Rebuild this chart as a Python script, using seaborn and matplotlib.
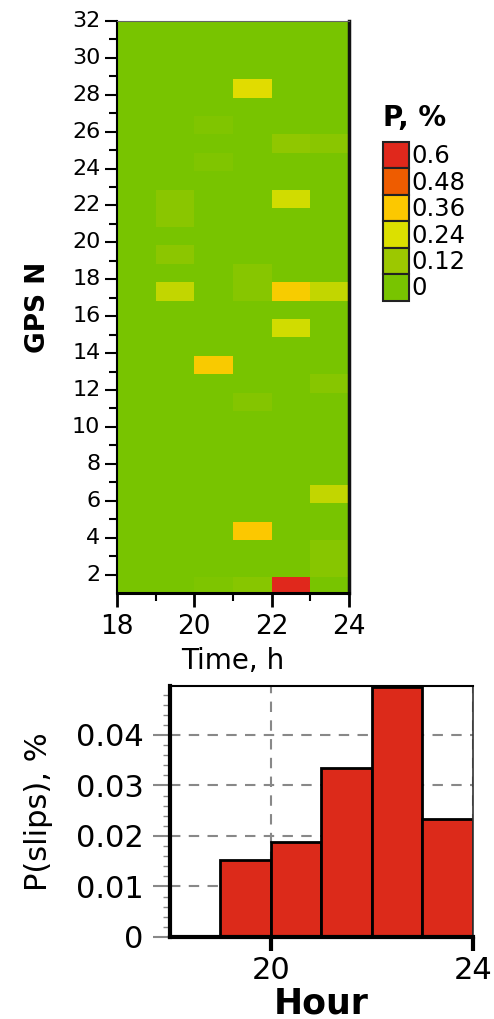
import numpy as np
import pandas as pd
import seaborn as sns
import matplotlib
import matplotlib.pyplot as plt
from matplotlib.colors import LinearSegmentedColormap
from matplotlib.patches import Patch

# heatmap: non-zero cells (GPS satellite, hour column, P in %)
hours = [18, 19, 20, 21, 22, 23]
gps_ids = list(range(1, 33))
cell_sat = [28, 26, 25, 25, 24, 22, 21, 22, 19, 18, 17, 17, 17, 17, 15, 13, 12, 11, 6, 4, 3, 2, 1, 1, 1]
cell_hour = [21, 20, 22, 23, 20, 19, 19, 22, 19, 21, 21, 19, 22, 23, 22, 20, 23, 21, 23, 21, 23, 23, 20, 21, 22]
cell_p = [0.26, 0.03, 0.08, 0.06, 0.03, 0.06, 0.06, 0.22, 0.07, 0.05, 0.05, 0.19, 0.34, 0.19, 0.22, 0.35,
          0.05, 0.04, 0.19, 0.36, 0.05, 0.05, 0.02, 0.05, 0.6]

# legend levels / colours
levels = [0.6, 0.48, 0.36, 0.24, 0.12, 0]
level_colors = ["#e0281c", "#ee5c00", "#fcc800", "#dce000", "#9cc800", "#78c400"]

# bottom histogram
bar_hours = [18, 19, 20, 21, 22, 23]
p_slips = [0.0, 0.0152, 0.0188, 0.0335, 0.0495, 0.0234]

sns.set_style("ticks")
plt.rcParams['font.family'] = ['DejaVu Sans']
plt.rcParams['text.color'] = 'black'
plt.rcParams['axes.labelcolor'] = 'black'
plt.rcParams['xtick.labelcolor'] = 'black'
plt.rcParams['ytick.labelcolor'] = 'black'

grid = pd.DataFrame(0.0, index=gps_ids, columns=hours)
for s, h, p in zip(cell_sat, cell_hour, cell_p):
    grid.loc[s, h] = p

cmap = LinearSegmentedColormap.from_list(
    "slips", list(zip([v / 0.6 for v in levels[::-1]], level_colors[::-1])))

fig = plt.figure(figsize=(4.94, 10.19), dpi=100)
ax_map = fig.add_axes([0.2368, 0.4181, 0.4696, 0.5613])
ax_bar = fig.add_axes([0.344, 0.0805, 0.6134, 0.2463])

sns.heatmap(grid, ax=ax_map, cmap=cmap, vmin=0, vmax=0.6, cbar=False)

off = 0.85
ax_map.set_ylim(1 - off, 32 - off)
ax_map.set_xlim(0, 6)
ax_map.set_yticks([g - off for g in range(2, 33, 2)])
ax_map.set_yticklabels([str(g) for g in range(2, 33, 2)], rotation=0)
ax_map.set_yticks([g - off for g in range(3, 32, 2)], minor=True)
ax_map.set_xticks([0, 2, 4, 6])
ax_map.set_xticklabels(["18", "20", "22", "24"], rotation=0)
ax_map.set_xticks([1, 3, 5], minor=True)
ax_map.tick_params(axis="y", which="major", labelsize=16, length=8.5, width=1.5, color="black", pad=3.5)
ax_map.tick_params(axis="both", which="minor", length=6, width=1.5, color="black")
ax_map.tick_params(axis="x", which="major", labelsize=19, length=10, width=2, color="black", pad=5)
for side, lw, col in [("left", 1.5, "black"), ("bottom", 2.2, "black"), ("right", 2.5, "#111111"),
                      ("top", 0.8, "#666666")]:
    ax_map.spines[side].set_visible(True)
    ax_map.spines[side].set_linewidth(lw)
    ax_map.spines[side].set_color(col)
ax_map.set_xlabel("Time, h", fontsize=20, labelpad=5)
ax_map.set_ylabel("GPS N", fontsize=19, fontweight="bold", labelpad=15)

fig.text(0.776, 0.8765, "P, %", fontsize=20, fontweight="bold", ha="left", va="baseline")
handles = [Patch(facecolor=c, edgecolor="#222222", linewidth=1.5) for c in level_colors]
fig.legend(handles, [f"{v:g}" for v in levels], loc="upper left", bbox_to_anchor=(0.775, 0.861),
           frameon=False, fontsize=17.5, handlelength=1.07, handleheight=1.3, labelspacing=0,
           handletextpad=0.12, borderpad=0, borderaxespad=0)

sns.histplot(x=[h + 0.5 for h in bar_hours], weights=p_slips, bins=bar_hours + [24], ax=ax_bar,
             color="#dc2a1a", edgecolor="black", linewidth=2, alpha=1)
ax_bar.set_xlim(18, 24)
ax_bar.set_ylim(0, 0.0497)
ax_bar.set_xticks([20, 24])
ax_bar.set_yticks([0, 0.01, 0.02, 0.03, 0.04])
ax_bar.set_yticklabels(["0", "0.01", "0.02", "0.03", "0.04"])
ax_bar.set_yticks(np.arange(0.002, 0.0497, 0.002), minor=True)
ax_bar.set_axisbelow(True)
ax_bar.grid(True, which="major", linestyle=(0, (5, 4)), color="#888888", linewidth=1.5)
ax_bar.tick_params(axis="y", which="major", labelsize=22, length=12, width=1.5, color="#888888", pad=7)
ax_bar.tick_params(axis="y", which="minor", length=5, width=1, color="#888888")
ax_bar.tick_params(axis="x", which="major", labelsize=22, length=10, width=3, color="black", pad=4)
for side, lw in [("left", 3), ("bottom", 3), ("top", 1.5), ("right", 1.2)]:
    ax_bar.spines[side].set_visible(True)
    ax_bar.spines[side].set_linewidth(lw)
    ax_bar.spines[side].set_color("black" if lw > 1.4 else "#333333")
ax_bar.set_ylabel("P(slips), %", fontsize=22, labelpad=16)
ax_bar.set_xlabel("Hour", fontsize=25, fontweight="bold", labelpad=1)

fig.savefig("out.png", dpi=100)
